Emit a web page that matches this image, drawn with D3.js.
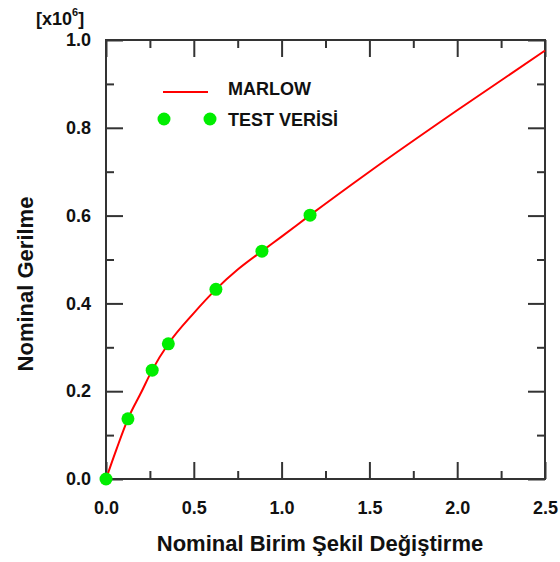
<!DOCTYPE html>
<html>
<head>
<meta charset="utf-8">
<script src="https://cdn.jsdelivr.net/npm/d3@7"></script>
<style>
  body { margin: 0; background: #fff; }
  text { font-family: "Liberation Sans", Arial, sans-serif; font-weight: bold; fill: #111; }
</style>
</head>
<body>
<svg id="chart"></svg>
<script>
// Marlow curve, strain vs nominal stress [x10^6]
var curveX = [0, 0.06, 0.125, 0.2, 0.263, 0.355, 0.5, 0.626, 0.75, 0.888, 1.0, 1.162, 1.5, 2.0, 2.5];
var curveY = [0, 0.068, 0.137, 0.197, 0.248, 0.308, 0.378, 0.432, 0.477, 0.519, 0.552, 0.601, 0.700, 0.840, 0.976];
// test data points
var testX = [0, 0.125, 0.263, 0.355, 0.626, 0.888, 1.162];
var testY = [0, 0.137, 0.248, 0.308, 0.432, 0.519, 0.601];
var xTicks = [0, 0.5, 1.0, 1.5, 2.0, 2.5];
var yTicks = [0, 0.2, 0.4, 0.6, 0.8, 1.0];
var seriesNames = ["MARLOW", "TEST VERİSİ"];

var dim = { width: 560, height: 562 };
var margin = { left: 106, right: 15, top: 40, bottom: 83 };
var w = dim.width - margin.left - margin.right;
var h = dim.height - margin.top - margin.bottom;

var x = d3.scaleLinear().domain([0, 2.5]).range([0, w]);
var y = d3.scaleLinear().domain([0, 1.0]).range([h, 0]);

var svg = d3.select("#chart").attr("width", dim.width).attr("height", dim.height);
var chart = svg.append("g").attr("transform", "translate(" + margin.left + "," + margin.top + ")");

var axisColor = "#333";
function tickAxis(axis, g) {
    g.call(axis);
    g.select(".domain").remove();
    g.selectAll("line").attr("stroke", axisColor).attr("stroke-width", 2);
}
var xMinor = d3.range(0.25, 2.5, 0.5);
var yMinor = d3.range(0.1, 1.0, 0.2);

// bottom
var gb = chart.append("g").attr("transform", "translate(0," + h + ")");
tickAxis(d3.axisBottom(x).tickValues(xTicks).tickSizeInner(-17).tickSizeOuter(0).tickPadding(22).tickFormat(d3.format(".1f")), gb);
gb.selectAll("text").style("font-size", "18px");
tickAxis(d3.axisBottom(x).tickValues(xMinor).tickSizeInner(-8).tickSizeOuter(0).tickFormat(""), chart.append("g").attr("transform", "translate(0," + h + ")"));
// top
tickAxis(d3.axisTop(x).tickValues(xTicks).tickSizeInner(-17).tickSizeOuter(0).tickFormat(""), chart.append("g"));
tickAxis(d3.axisTop(x).tickValues(xMinor).tickSizeInner(-8).tickSizeOuter(0).tickFormat(""), chart.append("g"));
// left
var gl = chart.append("g");
tickAxis(d3.axisLeft(y).tickValues(yTicks).tickSizeInner(-17).tickSizeOuter(0).tickPadding(15).tickFormat(d3.format(".1f")), gl);
gl.selectAll("text").style("font-size", "18px");
tickAxis(d3.axisLeft(y).tickValues(yMinor).tickSizeInner(-8).tickSizeOuter(0).tickFormat(""), chart.append("g"));
// right
tickAxis(d3.axisRight(y).tickValues(yTicks).tickSizeInner(-17).tickSizeOuter(0).tickFormat(""), chart.append("g").attr("transform", "translate(" + w + ",0)"));
tickAxis(d3.axisRight(y).tickValues(yMinor).tickSizeInner(-8).tickSizeOuter(0).tickFormat(""), chart.append("g").attr("transform", "translate(" + w + ",0)"));

chart.append("rect").attr("width", w).attr("height", h)
    .attr("fill", "none").attr("stroke", axisColor).attr("stroke-width", 2);

// curve
var line = d3.line().curve(d3.curveMonotoneX)
    .x(function (d, i) { return x(curveX[i]); })
    .y(function (d, i) { return y(curveY[i]); });
chart.append("path").datum(curveX).attr("d", line)
    .attr("fill", "none").attr("stroke", "#ff0000").attr("stroke-width", 2);

// points
chart.selectAll("circle.test").data(testX).enter().append("circle").attr("class", "test")
    .attr("cx", function (d) { return x(d); })
    .attr("cy", function (d, i) { return y(testY[i]); })
    .attr("r", 6.5)
    .attr("fill", "#00ee00");

// legend
var leg = svg.append("g");
leg.append("line").attr("x1", 163).attr("x2", 208).attr("y1", 92).attr("y2", 92)
    .attr("stroke", "#ff0000").attr("stroke-width", 2);
leg.append("text").attr("x", 228).attr("y", 95).text(seriesNames[0]).style("font-size", "18px");
[164, 210].forEach(function (cx) {
    leg.append("circle").attr("cx", cx).attr("cy", 119).attr("r", 6.5).attr("fill", "#00ee00");
});
leg.append("text").attr("x", 228).attr("y", 126).text(seriesNames[1]).style("font-size", "18px");

// axis titles
svg.append("text").attr("x", 320).attr("y", 551).attr("text-anchor", "middle")
    .style("font-size", "22px").text("Nominal Birim Şekil Değiştirme");
svg.append("text").attr("transform", "translate(33,284) rotate(-90)").attr("text-anchor", "middle")
    .style("font-size", "22px").text("Nominal Gerilme");
var mult = svg.append("text").attr("x", 36).attr("y", 25).style("font-size", "18px");
mult.append("tspan").text("[x10");
mult.append("tspan").attr("dy", -9).style("font-size", "11px").text("6");
mult.append("tspan").attr("dy", 9).text("]");
</script>
</body>
</html>
